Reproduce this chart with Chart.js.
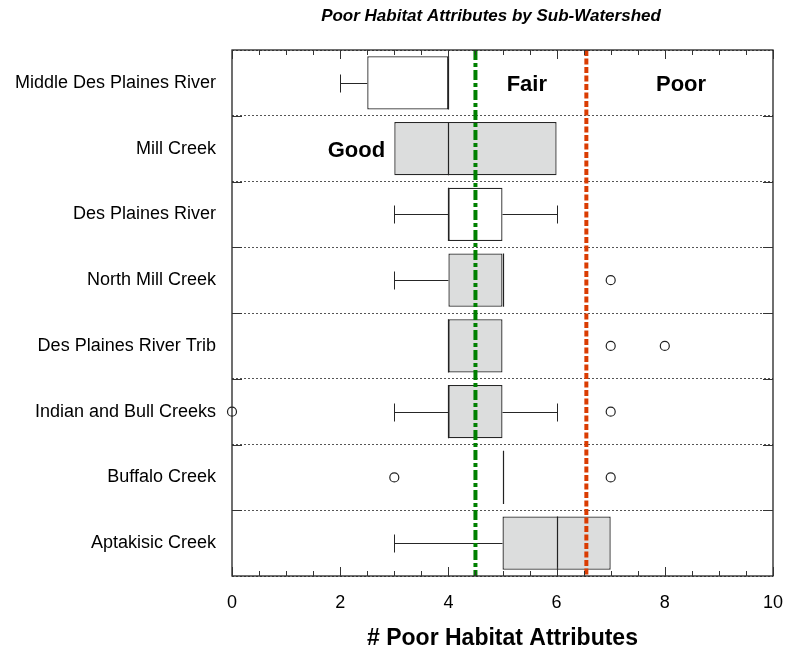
<!DOCTYPE html>
<html>
<head>
<meta charset="utf-8">
<script src="https://cdn.jsdelivr.net/npm/chart.js@4"></script>
<style>
html, body { margin: 0; padding: 0; background: #fff; }
canvas { display: block; }
</style>
</head>
<body>
<canvas id="c" width="786" height="652"></canvas>
<script>
// ---- data ----
const categories = [
  'Middle Des Plaines River', 'Mill Creek', 'Des Plaines River', 'North Mill Creek',
  'Des Plaines River Trib', 'Indian and Bull Creeks', 'Buffalo Creek', 'Aptakisic Creek'
];
const whiskerLow  = [2,   3, 3, 3, 4, 3, 5, 3];
const quartile1   = [2.5, 3, 4, 4, 4, 4, 5, 5];
const medians     = [4,   4, 4, 5, 4, 4, 5, 6];
const quartile3   = [4,   6, 5, 5, 5, 5, 5, 7];
const whiskerHigh = [4,   6, 6, 5, 5, 6, 5, 7];
const outlierCategories = ['North Mill Creek', 'Des Plaines River Trib', 'Des Plaines River Trib',
  'Indian and Bull Creeks', 'Indian and Bull Creeks', 'Buffalo Creek', 'Buffalo Creek'];
const outlierValues = [7, 7, 8, 0, 7, 3, 7];
const xTickValues = [0, 2, 4, 6, 8, 10];
const goodFairLimit = 4.5;
const fairPoorLimit = 6.55;
const zoneLabels = ['Good', 'Fair', 'Poor'];
const zoneLabelX = [2.3, 5.45, 8.3];
const zoneLabelCategory = ['Mill Creek', 'Middle Des Plaines River', 'Middle Des Plaines River'];
const chartTitle = 'Poor Habitat Attributes by Sub-Watershed';
const xAxisTitle = '# Poor Habitat Attributes';

// ---- styles ----
const FONT = '"Liberation Sans", Arial, sans-serif';
const boxFills = ['#ffffff', '#dcdddd', '#ffffff', '#dcdddd', '#dcdddd', '#dcdddd', '#dcdddd', '#dcdddd'];
const STROKE = '#262626';

Chart.defaults.font.family = FONT;
Chart.defaults.color = '#000';

function crisp(v) { return Math.round(v) + 0.5; }

const extras = {
  id: 'boxExtras',
  beforeDatasetsDraw(chart) {
    const { ctx, scales: { x, y } } = chart;
    ctx.save();
    ctx.strokeStyle = STROKE;
    ctx.lineWidth = 1;
    const capHalf = 9;
    categories.forEach((c, i) => {
      const yc = crisp(y.getPixelForValue(i));
      if (whiskerLow[i] < quartile1[i]) {
        const x0 = crisp(x.getPixelForValue(whiskerLow[i]));
        const x1 = x.getPixelForValue(quartile1[i]);
        ctx.beginPath(); ctx.moveTo(x0, yc); ctx.lineTo(x1, yc); ctx.stroke();
        ctx.beginPath(); ctx.moveTo(x0, yc - capHalf); ctx.lineTo(x0, yc + capHalf); ctx.stroke();
      }
      if (whiskerHigh[i] > quartile3[i]) {
        const x0 = x.getPixelForValue(quartile3[i]);
        const x1 = crisp(x.getPixelForValue(whiskerHigh[i]));
        ctx.beginPath(); ctx.moveTo(x0, yc); ctx.lineTo(x1, yc); ctx.stroke();
        ctx.beginPath(); ctx.moveTo(x1, yc - capHalf); ctx.lineTo(x1, yc + capHalf); ctx.stroke();
      }
    });
    ctx.restore();
  },
  afterDatasetsDraw(chart) {
    const { ctx, chartArea: a, scales: { x, y } } = chart;
    ctx.save();
    // medians
    const meta = chart.getDatasetMeta(0);
    ctx.strokeStyle = '#222';
    ctx.lineWidth = 1.2;
    meta.data.forEach((bar, i) => {
      const p = bar.getProps(['y', 'height'], true);
      const xm = crisp(x.getPixelForValue(medians[i]));
      ctx.beginPath();
      ctx.moveTo(xm, p.y - p.height / 2);
      ctx.lineTo(xm, p.y + p.height / 2);
      ctx.stroke();
    });
    // threshold lines
    ctx.lineWidth = 4;
    ctx.lineCap = 'butt';
    ctx.strokeStyle = '#008000';
    ctx.setLineDash([10, 3, 4, 3]);
    let xv = x.getPixelForValue(goodFairLimit);
    ctx.beginPath(); ctx.moveTo(xv, a.top); ctx.lineTo(xv, a.bottom); ctx.stroke();
    ctx.strokeStyle = '#DA3C02';
    ctx.setLineDash([6, 2.5]);
    xv = x.getPixelForValue(fairPoorLimit);
    ctx.beginPath(); ctx.moveTo(xv, a.top); ctx.lineTo(xv, a.bottom); ctx.stroke();
    ctx.setLineDash([]);
    // zone labels
    ctx.fillStyle = '#000';
    ctx.font = 'bold 22px ' + FONT;
    ctx.textAlign = 'center';
    ctx.textBaseline = 'middle';
    zoneLabels.forEach((t, i) => {
      const yy = y.getPixelForValue(categories.indexOf(zoneLabelCategory[i])) + 2;
      ctx.fillText(t, x.getPixelForValue(zoneLabelX[i]), yy);
    });
    ctx.restore();
  },
  afterDraw(chart) {
    const { ctx, chartArea: a, scales: { x, y } } = chart;
    ctx.save();
    // frame
    ctx.strokeStyle = '#222';
    ctx.lineWidth = 1.3;
    ctx.strokeRect(a.left, a.top, a.right - a.left, a.bottom - a.top);
    // x ticks (inside, bottom and top)
    ctx.lineWidth = 1;
    ctx.strokeStyle = '#333';
    for (let k = 0; k <= 20; k++) {
      const v = k / 2;
      const len = (k % 4 === 0) ? 9 : 5;
      const px = crisp(x.getPixelForValue(v));
      ctx.beginPath(); ctx.moveTo(px, a.bottom); ctx.lineTo(px, a.bottom - len); ctx.stroke();
      ctx.beginPath(); ctx.moveTo(px, a.top); ctx.lineTo(px, a.top + len); ctx.stroke();
    }
    // y ticks at category boundaries (inside, left and right)
    for (let i = 1; i < categories.length; i++) {
      const py = crisp((y.getPixelForValue(i - 1) + y.getPixelForValue(i)) / 2);
      ctx.beginPath(); ctx.moveTo(a.left, py); ctx.lineTo(a.left + 10, py); ctx.stroke();
      ctx.beginPath(); ctx.moveTo(a.right, py); ctx.lineTo(a.right - 10, py); ctx.stroke();
    }
    // chart title
    ctx.fillStyle = '#000';
    ctx.font = 'italic bold 17px ' + FONT;
    ctx.textAlign = 'center';
    ctx.textBaseline = 'middle';
    ctx.fillText(chartTitle, 491, 16);
    ctx.restore();
  }
};

new Chart(document.getElementById('c'), {
  type: 'bar',
  data: {
    labels: categories,
    datasets: [
      {
        type: 'bar',
        data: categories.map((c, i) => [quartile1[i], quartile3[i]]),
        backgroundColor: boxFills,
        borderColor: STROKE,
        borderWidth: 1.3,
        borderSkipped: false,
        barPercentage: 0.81,
        categoryPercentage: 1.0,
        order: 2
      },
      {
        type: 'scatter',
        data: outlierValues.map((v, i) => ({ x: v, y: outlierCategories[i] })),
        pointRadius: 4.5,
        pointBorderWidth: 1.2,
        pointBorderColor: '#222',
        pointBackgroundColor: '#fff',
        clip: false,
        order: 1
      }
    ]
  },
  options: {
    indexAxis: 'y',
    responsive: false,
    animation: false,
    devicePixelRatio: 1,
    layout: { padding: { top: 50, right: 0, left: 0, bottom: 0 } },
    plugins: { legend: { display: false }, tooltip: { enabled: false }, title: { display: false } },
    scales: {
      x: {
        type: 'linear',
        min: 0, max: 10,
        afterBuildTicks(s) { s.ticks = xTickValues.map(v => ({ value: v })); },
        ticks: { font: { size: 18 }, color: '#000', padding: 16 },
        grid: { display: false, drawTicks: false },
        border: { display: false },
        title: { display: true, text: xAxisTitle, font: { size: 23, weight: 'bold' }, color: '#000', padding: { top: 0, bottom: 0 } },
        afterFit(s) { s.height = 76; s.paddingRight = 13; }
      },
      y: {
        type: 'category',
        ticks: { font: { size: 18 }, color: '#000', padding: 16 },
        grid: { color: '#555', lineWidth: 1, drawTicks: false, offset: true },
        border: { display: false, dash: [2, 2] },
        afterFit(s) { s.width = 232; }
      }
    }
  },
  plugins: [extras]
});
</script>
</body>
</html>
